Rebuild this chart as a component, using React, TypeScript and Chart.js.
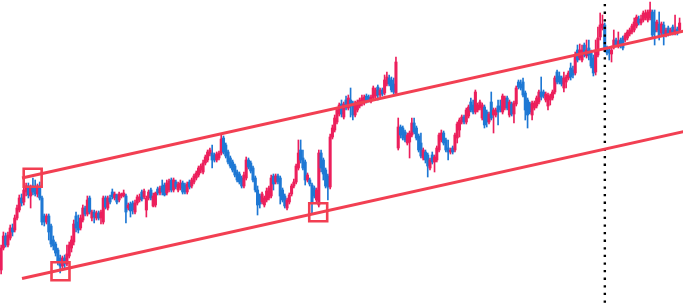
import React, { useEffect, useRef } from 'react';
import { Chart, registerables } from 'chart.js';

Chart.register(...registerables);

// Candle OHLC values (price units), one entry per period
const opens = [
  36,58,70,61,68,78,76,88,96,108, 104,114,120,110,120,118,112,120,108,90,
  84,90,80,66,62,56,48,40,48,42, 50,58,64,90,84,78,86,98,92,108,
  88,94,88,93,88,84,108,98,108,114, 108,111,106,110,110,110,98,102,103,94,
  103,106,114,109,96,108,116,100,101,117, 113,120,121,113,116,126,116,124,116,118,
  123,121,114,124,120,124,128,131,136,134, 143,146,152,153,151,146,148,153,168,161,
  154,148,144,140,134,132,128,120,128,146, 143,138,128,116,110,104,101,106,108,110,
  130,124,130,128,116,110,98,104,112,120, 124,138,156,148,144,126,126,121,118,106,
  101,153,146,136,130,119,169,176,184,192, 202,189,206,198,206,203,191,196,200,202,
  203,210,209,205,208,210,219,211,216,213, 222,228,226,222,213,158,179,178,174,163,
  164,171,183,178,170,163,148,154,151,138, 151,144,146,156,166,173,166,158,154,158,
  156,168,176,184,189,184,190,204,201,194, 196,198,188,199,194,184,204,191,191,200,
  200,194,198,208,191,202,192,202,224,222, 224,213,206,202,191,198,200,204,214,214,
  206,200,206,208,214,234,230,228,218,224, 228,238,236,233,256,248,246,261,250,258,
  253,248,234,251,269,278,281,258,256,252, 259,266,260,266,268,266,268,272,274,276,
  280,287,283,286,288,286,288,294,284,276, 282,273,281,271,278,273,279,273,277,276,
];
const closes = [
  58,70,61,71,78,74,88,98,108,103, 116,120,111,118,114,112,120,108,84,84,
  90,74,62,60,53,44,40,48,42,52, 61,66,82,78,76,88,98,92,106,94,
  94,89,93,88,94,108,99,108,104,109, 112,104,112,112,113,94,101,95,96,103,
  109,109,107,115,108,114,108,110,113,113, 118,114,111,123,125,116,126,119,122,123,
  114,114,122,119,126,130,133,138,140,143, 149,154,156,146,146,152,153,167,154,150,
  144,140,136,131,126,124,120,131,146,139, 135,126,116,101,102,112,108,115,118,128,
  122,130,124,110,106,100,106,111,120,124, 140,153,146,138,126,131,122,103,110,116,
  153,138,132,120,119,169,178,188,196,201, 192,202,198,208,200,191,203,204,206,208,
  209,205,206,209,218,216,211,216,212,226, 229,222,216,214,244,179,171,168,166,171,
  173,183,174,168,156,150,156,146,140,146, 144,149,158,171,173,163,156,154,156,154,
  171,182,186,189,184,196,199,196,194,214, 201,204,201,181,184,192,188,196,196,194,
  196,210,208,198,204,192,203,218,219,218, 211,196,191,194,203,203,208,214,209,210,
  212,211,210,214,228,224,224,222,228,229, 233,229,231,250,246,256,256,251,256,251,
  240,233,254,268,281,282,256,253,253,256, 266,261,265,260,258,271,274,276,280,284,
  289,283,287,293,293,294,296,271,274,284, 270,282,271,276,272,276,273,276,273,283,
];
const highs = [
  61,74,73,74,81,82,91,101,111,112, 120,123,123,121,128,126,122,124,110,92,
  92,92,82,70,64,58,51,50,51,61, 64,70,86,94,91,91,101,100,110,110,
  96,96,95,95,96,110,110,110,111,117, 114,112,114,113,116,112,103,104,105,106,
  111,112,116,117,110,116,118,113,114,119, 120,126,123,126,127,128,128,126,124,126,
  125,123,124,126,128,132,135,140,142,146, 151,156,158,161,153,154,155,171,170,163,
  156,150,146,142,136,134,130,134,149,148, 145,140,130,120,112,114,110,118,120,131,
  132,132,132,130,118,112,108,113,122,127, 142,166,166,156,146,133,128,123,120,118,
  156,156,148,138,132,172,181,191,198,203, 206,204,210,211,218,205,205,206,208,211,
  211,212,211,211,220,218,221,218,218,231, 234,231,229,228,249,188,181,180,176,173,
  175,188,188,180,172,173,158,156,153,148, 154,151,160,173,176,175,168,166,158,160,
  173,184,188,191,191,198,201,208,206,216, 203,206,203,201,196,194,214,198,198,206,
  206,212,210,210,206,204,205,220,226,226, 228,215,208,204,205,205,210,216,229,216,
  214,213,212,216,230,236,234,230,234,231, 235,243,240,254,261,262,261,263,266,266,
  256,251,266,279,293,291,283,260,258,260, 276,268,274,268,270,273,276,278,282,288,
  291,290,291,295,296,296,304,296,296,286, 294,284,284,278,280,278,281,291,279,288,
];
const lows = [
  32,56,59,59,66,70,74,86,94,100, 101,110,108,98,111,110,109,106,81,80,
  82,66,59,56,50,41,33,36,38,40, 48,54,61,74,73,76,84,90,90,92,
  85,83,86,86,82,82,97,96,102,107, 106,102,104,108,109,83,96,89,92,92,
  101,104,105,107,89,106,106,99,99,111, 111,111,110,111,114,114,114,117,114,116,
  112,112,112,117,118,122,126,129,133,132, 141,144,150,138,144,144,146,151,152,148,
  142,138,134,129,124,122,118,118,126,137, 133,124,114,91,98,102,99,104,106,108,
  116,122,122,102,104,98,96,102,110,118, 122,136,143,136,121,124,120,93,108,104,
  99,134,126,118,106,117,167,174,182,190, 189,187,196,196,189,186,189,194,198,200,
  201,203,204,203,206,208,206,209,210,211, 220,220,214,212,211,156,168,166,164,161,
  148,169,172,166,154,148,146,143,129,136, 142,134,144,154,164,161,154,146,152,152,
  154,163,169,182,182,182,188,194,192,192, 194,196,186,178,179,182,186,173,189,181,
  194,192,196,196,189,190,183,200,217,216, 209,186,178,192,186,196,198,202,206,208,
  204,196,201,206,212,222,222,220,214,218, 226,226,228,231,244,246,244,249,248,246,
  238,230,231,249,266,276,254,251,246,244, 257,259,258,258,256,264,266,270,272,274,
  278,281,281,284,286,284,286,269,261,274, 266,271,261,269,270,271,271,271,271,274,
];

// Channel trend lines (period index, price)
const channelX = [9.2, 305];
const upperChannel = [128, 277.1];
const lowerChannel = [27.5, 176.6];

// Touch-point markers (period index, price)
const markerX = [13.9, 26.16, 139.74];
const markerY = [128.3, 34.7, 93.7];

// Vertical dotted marker at a period index
const cursorX = 266.05;

const RED = '#ec1f5c';
const BLUE = '#1e78d4';
const LINE_RED = '#f23f52';

export default function App() {
  const ref = useRef<HTMLCanvasElement>(null);

  useEffect(() => {
    const canvas = ref.current;
    if (!canvas) return;
    const colors = closes.map((c, i) => (c >= opens[i] ? RED : BLUE));
    const bodies = closes.map((c, i) => ({ x: i, y: [Math.min(opens[i], c), Math.max(opens[i], c)] }));
    const wicks = closes.map((_, i) => ({ x: i, y: [lows[i], highs[i]] }));

    const chart = new Chart(canvas, {
      type: 'bar',
      data: {
        datasets: [
          {
            type: 'line',
            data: channelX.map((x, i) => ({ x, y: upperChannel[i] })),
            borderColor: LINE_RED,
            borderWidth: 3,
            pointRadius: 0,
            tension: 0,
            fill: false,
          } as any,
          {
            type: 'line',
            data: channelX.map((x, i) => ({ x, y: lowerChannel[i] })),
            borderColor: LINE_RED,
            borderWidth: 3,
            pointRadius: 0,
            tension: 0,
            fill: false,
          } as any,
          {
            type: 'line',
            data: markerX.map((x, i) => ({ x, y: markerY[i] })),
            showLine: false,
            pointStyle: 'rect',
            pointRadius: 12.7,
            pointBorderWidth: 2.6,
            pointBorderColor: LINE_RED,
            pointBackgroundColor: 'rgba(0,0,0,0)',
            borderColor: LINE_RED,
            backgroundColor: 'rgba(0,0,0,0)',
          } as any,
          {
            type: 'line',
            data: [{ x: cursorX, y: 306 }, { x: cursorX, y: 0 }],
            borderColor: '#000000',
            borderWidth: 2.4,
            borderDash: [2.3, 5.3],
            borderDashOffset: 3.6,
            pointRadius: 0,
            fill: false,
          } as any,
          {
            type: 'bar',
            data: bodies,
            backgroundColor: colors,
            borderWidth: 0,
            barThickness: 2.4,
            grouped: false,
          } as any,
          {
            type: 'bar',
            data: wicks,
            backgroundColor: colors,
            borderWidth: 0,
            barThickness: 1,
            grouped: false,
          } as any,
        ],
      },
      options: {
        responsive: false,
        animation: false,
        devicePixelRatio: 1,
        events: [],
        layout: { padding: 0, autoPadding: false },
        plugins: { legend: { display: false }, tooltip: { enabled: false } },
        scales: {
          x: { type: 'linear', min: -0.5, max: 300.5, offset: false, display: false },
          y: { type: 'linear', min: 0, max: 306, display: false },
        },
      } as any,
    });
    return () => chart.destroy();
  }, []);

  return (
    <div style={{ position: 'fixed', left: 0, top: 0, width: 683, height: 306, background: '#fff' }}>
      <canvas ref={ref} width={683} height={306} style={{ display: 'block' }} />
    </div>
  );
}
